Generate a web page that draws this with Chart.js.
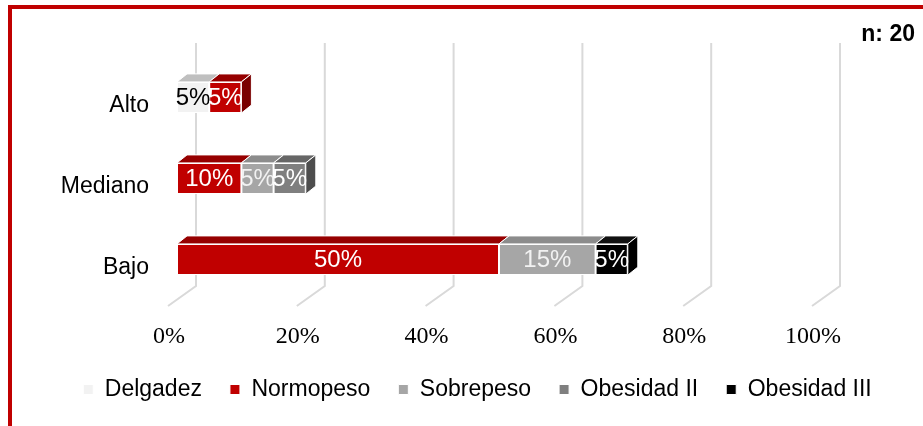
<!DOCTYPE html>
<html>
<head>
<meta charset="utf-8">
<script src="https://cdn.jsdelivr.net/npm/chart.js@4.4.0/dist/chart.umd.min.js"></script>
<style>
  body { margin: 0; background: #fff; overflow: hidden; }
  #frame { position: absolute; left: 8px; top: 5px; width: 1000px; height: 500px; border: 4px solid #c00000; }
  #my-chart { position: absolute; left: 0; top: 0; }
</style>
</head>
<body>
<div id="frame"></div>
<canvas id="my-chart" width="923" height="426"></canvas>
<script>
const categories = ["Alto", "Mediano", "Bajo"];
const seriesNames = ["Delgadez", "Normopeso", "Sobrepeso", "Obesidad II", "Obesidad III"];
const delgadez = [5, 0, 0];
const normopeso = [5, 10, 50];
const sobrepeso = [0, 5, 15];
const obesidadII = [0, 5, 0];
const obesidadIII = [0, 0, 5];
const xTickLabels = ["0%", "20%", "40%", "60%", "80%", "100%"];
const sampleNote = "n: 20";

const frontColors = ["#f2f2f2", "#c00000", "#a6a6a6", "#7f7f7f", "#000000"];
const topColors = ["#bfbfbf", "#960000", "#8c8c8c", "#666666", "#111111"];
const sideColors = ["#b0b0b0", "#7a0000", "#808080", "#4d4d4d", "#000000"];
const labelColors = ["#000000", "#ffffff", "#f2f2f2", "#ffffff", "#ffffff"];

const allSeries = [delgadez, normopeso, sobrepeso, obesidadII, obesidadIII];

// back wall + floor grid lines (3d look)
const wallPlugin = {
  id: "wall",
  beforeDatasetsDraw(chart) {
    const ctx = chart.ctx;
    const xs = chart.scales.x;
    const area = chart.chartArea;
    ctx.save();
    ctx.strokeStyle = "#d9d9d9";
    ctx.lineWidth = 2;
    xs.ticks.forEach((t) => {
      const px = xs.getPixelForValue(t.value);
      ctx.beginPath();
      ctx.moveTo(px + 19, area.top - 14);
      ctx.lineTo(px + 19, area.bottom - 14);
      ctx.lineTo(px - 9, area.bottom + 6);
      ctx.stroke();
    });
    ctx.restore();
  },
};

// top / side faces of the bars, value labels, n note
const boxPlugin = {
  id: "box3d",
  afterDatasetsDraw(chart) {
    const ctx = chart.ctx;
    const dx = 10, dy = 8;
    const last = categories.map((c, j) => {
      let k = -1;
      allSeries.forEach((s, i) => { if (s[j] > 0) k = i; });
      return k;
    });
    ctx.save();
    ctx.strokeStyle = "#ffffff";
    ctx.lineWidth = 1;
    chart.data.datasets.forEach((ds, i) => {
      const meta = chart.getDatasetMeta(i);
      meta.data.forEach((bar, j) => {
        if (!ds.data[j]) return;
        const p = bar.getProps(["x", "y", "base", "height"], true);
        const left = p.base, right = p.x;
        const top = p.y - p.height / 2, bottom = p.y + p.height / 2;
        ctx.beginPath();
        ctx.moveTo(left, top);
        ctx.lineTo(left + dx, top - dy);
        ctx.lineTo(right + dx, top - dy);
        ctx.lineTo(right, top);
        ctx.closePath();
        ctx.fillStyle = topColors[i];
        ctx.fill();
        ctx.stroke();
        if (i === last[j]) {
          ctx.beginPath();
          ctx.moveTo(right, top);
          ctx.lineTo(right + dx, top - dy);
          ctx.lineTo(right + dx, bottom - dy);
          ctx.lineTo(right, bottom);
          ctx.closePath();
          ctx.fillStyle = sideColors[i];
          ctx.fill();
          ctx.stroke();
        }
      });
    });
    ctx.font = "24px 'Liberation Sans', Arial, sans-serif";
    ctx.textAlign = "center";
    ctx.textBaseline = "middle";
    chart.data.datasets.forEach((ds, i) => {
      const meta = chart.getDatasetMeta(i);
      meta.data.forEach((bar, j) => {
        if (!ds.data[j]) return;
        const p = bar.getProps(["x", "y", "base"], true);
        ctx.fillStyle = labelColors[i];
        ctx.fillText(ds.data[j] + "%", (p.base + p.x) / 2, p.y + 1);
      });
    });
    ctx.restore();
  },
  afterDraw(chart) {
    const ctx = chart.ctx;
    ctx.save();
    ctx.font = "bold 23px 'Liberation Sans', Arial, sans-serif";
    ctx.fillStyle = "#000";
    ctx.textAlign = "right";
    ctx.textBaseline = "alphabetic";
    ctx.fillText(sampleNote, 915, 41);
    ctx.restore();
  },
};

const ctx = document.getElementById("my-chart").getContext("2d");
const chart = new Chart(ctx, {
  type: "bar",
  data: {
    labels: categories,
    datasets: allSeries.map((s, i) => ({
      label: seriesNames[i],
      data: s,
      backgroundColor: frontColors[i],
      borderColor: "#ffffff",
      borderWidth: 1,
      borderSkipped: false,
    })),
  },
  options: {
    indexAxis: "y",
    responsive: false,
    animation: false,
    devicePixelRatio: 1,
    categoryPercentage: 1,
    barPercentage: 0.385,
    layout: { padding: { left: 32, right: 0, top: 57, bottom: 15 } },
    scales: {
      x: {
        stacked: true,
        min: 0,
        max: 100,
        grid: { display: false, drawTicks: false },
        border: { display: false },
        afterFit: (scale) => { scale.height = 50; },
        ticks: {
          stepSize: 20,
          padding: 22,
          labelOffset: -8,
          color: "#000",
          font: { family: "'Liberation Serif', 'Times New Roman', serif", size: 24 },
          callback: (v, idx) => xTickLabels[idx],
        },
      },
      y: {
        stacked: true,
        grid: { display: false, drawTicks: false },
        border: { display: false },
        afterFit: (scale) => { scale.width = 145; },
        ticks: {
          padding: 28,
          labelOffset: 8,
          color: "#000",
          font: { family: "'Liberation Sans', Arial, sans-serif", size: 23 },
        },
      },
      // empty right axis, only keeps room right of the plot
      yRight: {
        type: "category",
        position: "right",
        grid: { display: false, drawTicks: false },
        border: { display: false },
        ticks: { display: false },
        afterFit: (scale) => { scale.width = 102; },
      },
    },
    plugins: {
      legend: {
        position: "bottom",
        labels: {
          boxWidth: 10,
          boxHeight: 10,
          padding: 28,
          color: "#000",
          font: { family: "'Liberation Sans', Arial, sans-serif", size: 23 },
        },
      },
      tooltip: { enabled: false },
    },
  },
  plugins: [wallPlugin, boxPlugin],
});
</script>
</body>
</html>
